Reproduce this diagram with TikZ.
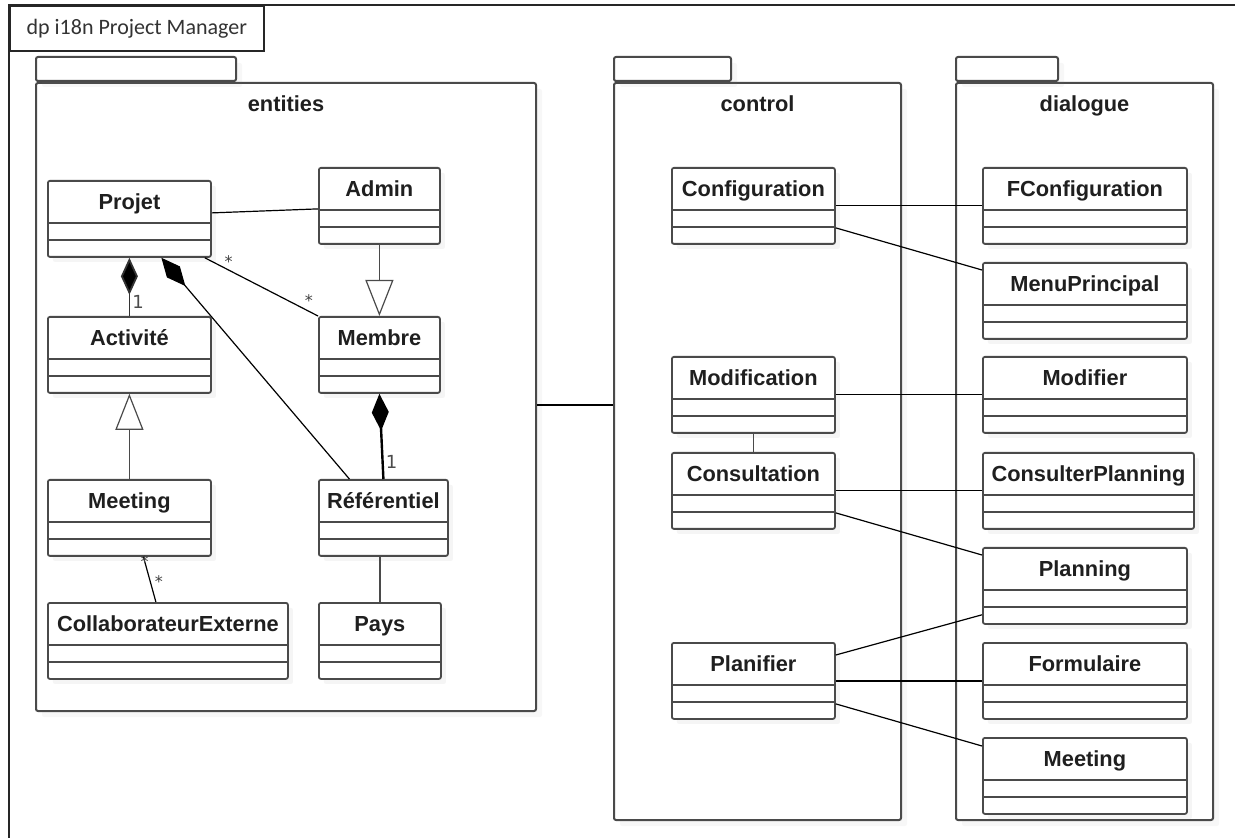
\documentclass[tikz,border=0pt]{standalone}
\usepackage{fontspec}
\setmainfont{Liberation Sans}
\newfontfamily\titlefont{Carlito}
\newfontfamily\multfont{DejaVu Sans}
\usepackage{xcolor}
\usepackage{tikz}
\usetikzlibrary{arrows.meta}
\usetikzlibrary{calc}
\usetikzlibrary{positioning}
\usetikzlibrary{shadows}
\definecolor{boxgray}{HTML}{4A4A4A}

\begin{document}
\begin{tikzpicture}[x=0.5pt,y=-0.5pt,-,semithick]
  \tikzstyle{cls}=[rectangle, draw=boxgray, line width=0.9pt, fill=white, rounded corners=1pt, anchor=north west, inner xsep=2pt, inner ysep=4pt, minimum height=38pt, text height=10.25pt, text depth=19.75pt, text=black!88, font=\fontsize{10.9}{13}\selectfont\bfseries, drop shadow={opacity=0.08, shadow xshift=2.5pt, shadow yshift=-2.5pt},
    path picture={\draw[boxgray, line width=0.9pt]
      ([yshift=-21pt]path picture bounding box.north west) -- ([yshift=-21pt]path picture bounding box.north east)
      ([yshift=-29.5pt]path picture bounding box.north west) -- ([yshift=-29.5pt]path picture bounding box.north east);}]
  \tikzstyle{pkg}=[draw=boxgray, line width=1pt, fill=white, rounded corners=1pt, inner sep=0pt, drop shadow={opacity=0.06, shadow xshift=3pt, shadow yshift=-3pt}]
  \tikzstyle{pkgname}=[inner sep=0pt, text=black!88, font=\fontsize{10.9}{13}\selectfont\bfseries]
  \tikzstyle{titlebox}=[draw=black!85, line width=0.8pt, fill=white, inner sep=0pt, text=black!80, font=\titlefont\fontsize{11}{13}\selectfont]
  \tikzstyle{assoc}=[draw=black, line width=0.6pt]
  \tikzstyle{gen}=[draw=boxgray, line width=0.9pt, -{Triangle[length=18pt, width=14pt, fill=white, line width=0.6pt]}]
  \tikzstyle{comp}=[draw=black, line width=0.9pt, -{Diamond[length=18.5pt, width=8.5pt, fill=black]}]
  \tikzstyle{mult}=[inner sep=1pt, text=black!70, font=\multfont\fontsize{9}{10}\selectfont]
  \tikzstyle{star}=[inner sep=1pt, text=black!75, font=\multfont\fontsize{8}{9}\selectfont]

  \useasboundingbox (0,0) rectangle (1235,838);
  \fill[white] (0,0) rectangle (1235,838);

  % frame and title
  \draw[line width=1pt, black!85] (1235,5) -- (9,5) -- (9,838);
  \node[titlebox, anchor=north west, minimum width=127pt, minimum height=22.5pt] (title) at (9,5) {dp i18n Project Manager};

  % packages
  \node[pkg, anchor=north west, minimum width=250pt, minimum height=314pt] (entities) at (35,82) {};
  \node[pkg, anchor=south west, minimum width=100pt, minimum height=12pt] (entitiestab) at (entities.north west) {};
  \node[pkgname, anchor=base] (entname) at ($(entities.north)+(0,30)$) {entities};

  \node[pkg, anchor=north west, minimum width=143.5pt, minimum height=368.5pt] (control) at (613,82) {};
  \node[pkg, anchor=south west, minimum width=58.5pt, minimum height=12pt] (controltab) at (control.north west) {};
  \node[pkgname, anchor=base] (ctrlname) at ($(control.north)+(0,30)$) {control};

  \node[pkg, anchor=north west, minimum width=128.5pt, minimum height=368.5pt] (dialogue) at (955,82) {};
  \node[pkg, anchor=south west, minimum width=51pt, minimum height=12pt] (dialoguetab) at (dialogue.north west) {};
  \node[pkgname, anchor=base] (dlgname) at ($(dialogue.north)+(0,30)$) {dialogue};

  % entities
  \node[cls, minimum width=81.5pt] (projet) at (47,180) {Projet};
  \node[cls, minimum width=60.5pt] (admin) at (318,167) {Admin};
  \node[cls, minimum width=81.5pt] (activite) at (47,316) {Activité};
  \node[cls, minimum width=60.5pt] (membre) at (318,316) {Membre};
  \node[cls, minimum width=81.5pt] (meetingE) at (47,479) {Meeting};
  \node[cls, minimum width=64.5pt] (referentiel) at (318,479) {Référentiel};
  \node[cls, minimum width=120pt] (collab) at (47,602) {CollaborateurExterne};
  \node[cls, minimum width=61pt] (pays) at (318,602) {Pays};

  % control
  \node[cls, minimum width=81.5pt] (config) at (671,167) {Configuration};
  \node[cls, minimum width=81.5pt] (modification) at (671,356) {Modification};
  \node[cls, minimum width=81.5pt] (consultation) at (671,452) {Consultation};
  \node[cls, minimum width=81.5pt] (planifier) at (671,642) {Planifier};

  % dialogue
  \node[cls, minimum width=102pt] (fconfig) at (982,167) {FConfiguration};
  \node[cls, minimum width=102pt] (menu) at (982,262) {MenuPrincipal};
  \node[cls, minimum width=102pt] (modifier) at (982,356) {Modifier};
  \node[cls, minimum width=105.5pt] (consulterpl) at (982,452) {ConsulterPlanning};
  \node[cls, minimum width=102pt] (planning) at (982,547) {Planning};
  \node[cls, minimum width=102pt] (formulaire) at (982,642) {Formulaire};
  \node[cls, minimum width=102pt] (meetingD) at (982,737) {Meeting};

  % links inside entities
  \path
    ($(projet.east)+(0,-6)$) edge[assoc] ($(admin.west)+(0,3)$)
    ($(projet.south east)+(-7,0)$) edge[assoc] node[star, pos=0.21, above=0pt] {*} node[star, pos=0.92, above=1pt] {*} (membre.north west)
    (admin.south) edge[gen] (membre.north)
    (meetingE.north) edge[gen] (activite.south)
    (activite.north) edge[comp, draw=black!80] node[mult, pos=0.25, right=0pt] {1} (projet.south)
    ($(referentiel.north)+(-34,0)$) edge[comp, line width=0.6pt] ($(projet.south)+(32,0)$)
    (referentiel.north) edge[comp, line width=1.2pt] node[mult, pos=0.2, right=0pt] {1} (membre.south)
    ($(meetingE.south)+(14,0)$) edge[assoc] node[star, pos=0.1] {*} node[star, pos=0.55, right=1pt] {*} ($(collab.north)+(-12,0)$)
    (pays.north |- referentiel.south) edge[assoc, draw=boxgray, line width=0.9pt] (pays.north);

  % between packages
  \coordinate (pk) at ($(entities.east)+(0,8)$);
  \path (pk) edge[assoc] (control.west |- pk);

  % control to dialogue
  \path
    (config.east) edge[assoc] (fconfig.west)
    ($(config.east)+(0,22)$) edge[assoc] ($(menu.north west)+(0,8)$)
    (modification.east) edge[assoc] (modifier.west)
    (modification.south) edge[assoc, draw=boxgray, line width=0.9pt] (consultation.north)
    (consultation.east) edge[assoc] (consulterpl.west)
    ($(consultation.east)+(0,22)$) edge[assoc] ($(planning.north west)+(0,8)$)
    ($(planifier.north east)+(0,13)$) edge[assoc] ($(planning.south west)+(0,-10)$)
    (planifier.east) edge[assoc] (formulaire.west)
    ($(planifier.east)+(0,23)$) edge[assoc] ($(meetingD.north west)+(0,9)$);
\end{tikzpicture}
\end{document}
